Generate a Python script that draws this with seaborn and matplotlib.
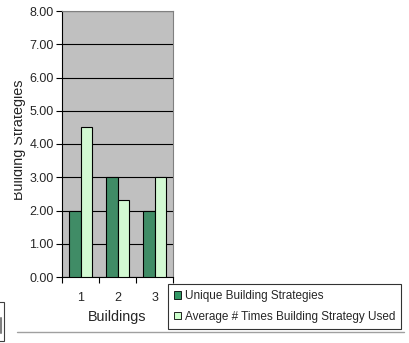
import matplotlib
matplotlib.use("Agg")
import matplotlib.pyplot as plt
import seaborn as sns
import pandas as pd
from matplotlib.patches import Rectangle
from matplotlib.lines import Line2D
from matplotlib.transforms import Bbox, TransformedBbox

buildings = ["1", "2", "3"]
unique_strategies = [2.0, 3.0, 2.0]
avg_times_used = [4.5, 2.33, 3.0]
series_names = ["Unique Building Strategies", "Average # Times Building Strategy Used"]
y_ticks = [0, 1, 2, 3, 4, 5, 6, 7, 8]

df = pd.DataFrame({
    "Buildings": buildings * 2,
    "value": unique_strategies + avg_times_used,
    "series": [series_names[0]] * 3 + [series_names[1]] * 3,
})

sns.set_style("white")
plt.rcParams["font.family"] = ["Liberation Sans", "DejaVu Sans"]

W, H = 409, 343
fig = plt.figure(figsize=(W / 100, H / 100), dpi=100)
ax = fig.add_axes([62 / W, 1 - 277 / H, (173 - 62) / W, (277 - 11) / H])

sns.barplot(data=df, x="Buildings", y="value", hue="series",
            palette=["#339966", "#CCFFCC"], edgecolor="black", linewidth=0.8,
            width=0.6, gap=0, ax=ax, legend=False, zorder=3)

ax.set_facecolor("#C0C0C0")
ax.set_ylim(0, 8)
ax.set_xlim(-0.5, 2.5)
ax.set_yticks(y_ticks)
ax.set_yticklabels([f"{v:.2f}" for v in y_ticks], fontsize=9)
ax.yaxis.grid(True, color="black", linewidth=0.8, zorder=0)
ax.set_axisbelow(True)
for side in ["top", "right"]:
    ax.spines[side].set_color("#808080")
    ax.spines[side].set_linewidth(0.8)
ax.spines["left"].set_color("black")
ax.spines["bottom"].set_color("black")
ax.tick_params(axis="y", length=4, width=0.8, color="black", direction="out", left=True, pad=2)
ax.tick_params(axis="x", length=0, labelsize=9, pad=11)
# tick marks between categories
ax.set_xticks([-0.5, 0.5, 1.5, 2.5], minor=True)
ax.tick_params(axis="x", which="minor", length=4, width=0.8, color="black", bottom=True)
ax.set_xlabel("Buildings", fontsize=10.4, labelpad=4)
ax.set_ylabel("Building Strategies", fontsize=10.4)
ax.yaxis.set_label_coords((26 - 62) / 111, 0.515)
# the axis title is cut by the chart frame on its left side
ylab = ax.yaxis.label
ylab.set_clip_box(TransformedBbox(Bbox([[14 / W, 0], [1, 1]]), fig.transFigure))
ylab.set_clip_on(True)

# legend box
handles = [Rectangle((0, 0), 1, 1, facecolor=c, edgecolor="black", linewidth=0.6)
           for c in ["#339966", "#CCFFCC"]]
leg = fig.legend(handles, series_names, loc="upper left",
                 bbox_to_anchor=(168 / W, 1 - 284 / H), fontsize=8.45,
                 frameon=True, fancybox=False, edgecolor="black",
                 handlelength=0.65, handleheight=0.65, handletextpad=0.3,
                 borderpad=0.5, labelspacing=0.75, borderaxespad=0)
leg.get_frame().set_linewidth(0.8)

# partial frame at the left edge and the rule below
fig.add_artist(Rectangle((-10 / W, 1 - 341 / H), 14 / W, 39 / H, transform=fig.transFigure,
                         fill=False, edgecolor="#404040", linewidth=0.8))
fig.add_artist(Line2D([0.5 / W, 0.5 / W], [1 - 333 / H, 1 - 318 / H], transform=fig.transFigure,
                      color="#808080", linewidth=1.5))
fig.add_artist(Line2D([17 / W, 404 / W], [1 - 332 / H, 1 - 332 / H], transform=fig.transFigure,
                      color="#A0A0A0", linewidth=1))

fig.savefig("out.png", dpi=100, facecolor="white")
